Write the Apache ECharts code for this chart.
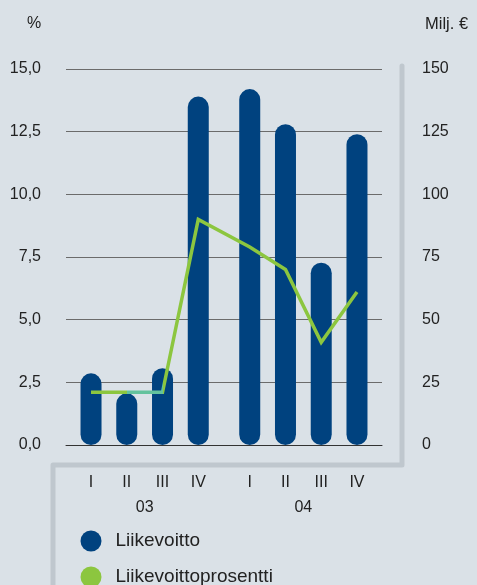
<!DOCTYPE html>
<html>
<head>
<meta charset="utf-8">
<script src="https://cdn.jsdelivr.net/npm/echarts@6/dist/echarts.min.js"></script>
<style>
  html, body { margin: 0; padding: 0; background: #dae1e7; }
  #chart { width: 477px; height: 585px; }
</style>
</head>
<body>
<div id="chart"></div>
<script>
// Quarterly operating profit (Milj. €) and operating margin (%)
const quarters = ['I', 'II', 'III', 'IV', 'I', 'II', 'III', 'IV'];
const years = ['03', '04'];
const liikevoitto = [28.6, 20.6, 30.6, 139, 142, 128, 72.7, 124];
const liikevoittoprosentti = [2.1, 2.1, 2.1, 9.0, 7.9, 7.0, 4.1, 6.1];
const leftTicks = [0, 2.5, 5, 7.5, 10, 12.5, 15];
const rightTicks = [0, 25, 50, 75, 100, 125, 150];

// Horizontal layout: one unit per quarter, plus a small gap between years
const yearGap = 0.44;
const perYear = 4;
const slot = i => i + Math.floor(i / perYear) * yearGap;
const slots = quarters.map((_, i) => slot(i));
const yearCenters = years.map((_, y) => (slot(y * perYear) + slot(y * perYear + perYear - 1)) / 2);
const pad = 0.7;

const FONT = 'Liberation Sans';
const TEXT = '#222';
const BLUE = '#00427f';
const GREEN = '#8cc63f';
const TICK_SIZE = 16;

const legendItem = (name, color, top) => ({
  orient: 'vertical',
  left: 75.5,
  top: top,
  itemWidth: 21,
  itemHeight: 21,
  icon: 'circle',
  textStyle: { fontSize: 19, color: TEXT, fontFamily: FONT, padding: [0, 0, 0, 9] },
  data: [{ name: name, itemStyle: { color: color } }]
});

const chart = echarts.init(document.getElementById('chart'));
chart.setOption({
  backgroundColor: '#dae1e7',
  animation: false,
  textStyle: { fontFamily: FONT, color: TEXT },
  grid: { left: 66, right: 95, top: 69, bottom: 140 },
  xAxis: [
    {
      type: 'value',
      min: slots[0] - pad,
      max: slots[slots.length - 1] + pad,
      splitLine: { show: false },
      axisTick: { show: false },
      axisLine: { show: true, lineStyle: { color: '#333', width: 1 } },
      axisLabel: {
        customValues: slots,
        margin: 30,
        fontSize: TICK_SIZE,
        color: TEXT,
        fontFamily: FONT,
        formatter: v => quarters[slots.findIndex(s => Math.abs(s - v) < 1e-6)] || ''
      }
    },
    {
      type: 'value',
      position: 'bottom',
      offset: 25,
      min: slots[0] - pad,
      max: slots[slots.length - 1] + pad,
      splitLine: { show: false },
      axisTick: { show: false },
      axisLine: { show: false },
      axisLabel: {
        customValues: yearCenters,
        margin: 30,
        fontSize: TICK_SIZE,
        color: TEXT,
        fontFamily: FONT,
        formatter: v => years[yearCenters.findIndex(s => Math.abs(s - v) < 1e-6)] || ''
      }
    }
  ],
  yAxis: [
    {
      type: 'value',
      min: leftTicks[0],
      max: leftTicks[leftTicks.length - 1],
      interval: leftTicks[1] - leftTicks[0],
      axisLine: { show: false },
      axisTick: { show: false },
      splitLine: { show: true, lineStyle: { color: '#6b6b6b', width: 1 } },
      axisLabel: {
        margin: 25,
        fontSize: TICK_SIZE,
        color: TEXT,
        fontFamily: FONT,
        formatter: v => v.toFixed(1).replace('.', ',')
      }
    },
    {
      type: 'value',
      min: rightTicks[0],
      max: rightTicks[rightTicks.length - 1],
      interval: rightTicks[1] - rightTicks[0],
      axisLine: { show: false },
      axisTick: { show: false },
      splitLine: { show: false },
      axisLabel: {
        margin: 40,
        fontSize: TICK_SIZE,
        color: TEXT,
        fontFamily: FONT,
        align: 'left'
      }
    }
  ],
  visualMap: {
    show: false,
    type: 'piecewise',
    seriesIndex: 1,
    dimension: 0,
    pieces: [
      { lt: slots[1], color: GREEN },
      { gte: slots[1], lte: slots[2], color: '#63c29d' },
      { gt: slots[2], color: GREEN }
    ]
  },
  legend: [
    legendItem('Liikevoitto', BLUE, 525.5),
    legendItem('Liikevoittoprosentti', GREEN, 561.5)
  ],
  series: [
    {
      name: 'Liikevoitto',
      type: 'bar',
      xAxisIndex: 0,
      yAxisIndex: 1,
      barWidth: 21,
      itemStyle: { color: BLUE, borderRadius: 10.5 },
      data: liikevoitto.map((v, i) => [slots[i], v]),
      z: 2
    },
    {
      name: 'Liikevoittoprosentti',
      type: 'line',
      xAxisIndex: 0,
      yAxisIndex: 0,
      symbol: 'none',
      lineStyle: { width: 3.5, join: 'miter' },
      data: liikevoittoprosentti.map((v, i) => [slots[i], v]),
      z: 3
    }
  ],
  graphic: [
    {
      type: 'polyline',
      shape: { points: [[402, 66], [402, 465], [53, 465], [53, 592]] },
      style: { stroke: '#bfc7ce', lineWidth: 5, fill: null, lineJoin: 'round', lineCap: 'round' },
      z: -1
    },
    {
      type: 'text',
      left: 27, top: 16,
      style: { text: '%', font: '16px "Liberation Sans"', fill: TEXT }
    },
    {
      type: 'text',
      left: 425, top: 16,
      style: { text: 'Milj. €', font: '16.5px "Liberation Sans"', fill: TEXT }
    }
  ]
});
</script>
</body>
</html>
